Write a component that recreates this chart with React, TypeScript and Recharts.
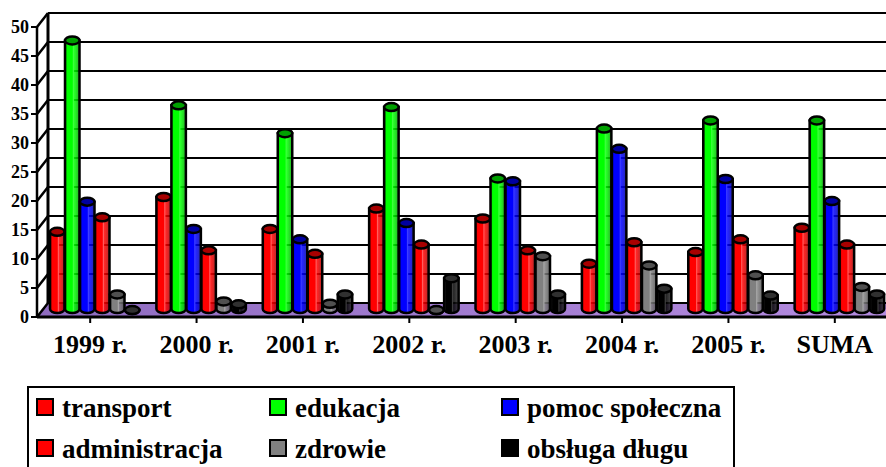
import React from "react";
import { BarChart, Bar, XAxis, YAxis, ReferenceLine, Legend } from "recharts";

const CATEGORIES = ["1999 r.", "2000 r.", "2001 r.", "2002 r.", "2003 r.", "2004 r.", "2005 r.", "SUMA"];
const TRANSPORT = [14, 20, 14.5, 18, 16.3, 8.5, 10.5, 14.7];
const EDUKACJA = [47, 35.8, 31, 35.5, 23.2, 31.8, 33.2, 33.2];
const POMOC = [19.2, 14.5, 12.7, 15.5, 22.7, 28.3, 23.1, 19.3];
const ADMINISTRACJA = [16.5, 10.8, 10.2, 11.8, 10.8, 12.2, 12.7, 11.8];
const ZDROWIE = [3.2, 2, 1.6, 0.5, 9.8, 8.2, 6.5, 4.5];
const DLUG = [0.5, 1.5, 3.2, 6, 3.2, 4.2, 3, 3.2];
const Y_TICKS = [0, 5, 10, 15, 20, 25, 30, 35, 40, 45, 50];

const SERIES = [
  { key: "transport", values: TRANSPORT, color: "#ff0000", dark: "#a80000", light: "#ff6060" },
  { key: "edukacja", values: EDUKACJA, color: "#00ff00", dark: "#00a000", light: "#40ff40" },
  { key: "pomoc społeczna", values: POMOC, color: "#0000ff", dark: "#0000a0", light: "#4040ff" },
  { key: "administracja", values: ADMINISTRACJA, color: "#ff0000", dark: "#a80000", light: "#ff6060" },
  { key: "zdrowie", values: ZDROWIE, color: "#808080", dark: "#505050", light: "#a8a8a8" },
  { key: "obsługa długu", values: DLUG, color: "#000000", dark: "#303030", light: "#404040" },
];

const chartData = CATEGORIES.map((name, i) => {
  const row: Record<string, string | number> = { name };
  SERIES.forEach((s) => {
    row[s.key] = s.values[i];
  });
  return row;
});

const FONT = "'Liberation Serif', 'Times New Roman', serif";
const DEPTH_X = 11;
const DEPTH_Y = 14;

// wall line plus the slanted bit from the front axis
function GridShape(props: any) {
  const { x1, x2, y1 } = props;
  const bx = x1 + DEPTH_X;
  const by = y1 - DEPTH_Y;
  return (
    <g>
      <line x1={x1 - 6} y1={y1} x2={x1} y2={y1} stroke="#000" strokeWidth={2} />
      <line x1={x1} y1={y1} x2={bx} y2={by} stroke="#000" strokeWidth={2.5} />
      <line x1={bx} y1={by} x2={x2 + 2} y2={by} stroke="#000" strokeWidth={2} />
    </g>
  );
}

function FloorShape(props: any) {
  const { x1, x2, y1 } = props;
  const bx = x1 + DEPTH_X;
  const by = y1 - DEPTH_Y;
  return (
    <g>
      <defs>
        <linearGradient id="floor" x1="0" y1="0" x2="1" y2="0">
          <stop offset="0" stopColor="#8f6cc0" />
          <stop offset="1" stopColor="#b48be0" />
        </linearGradient>
      </defs>
      <polygon points={`${x1},${y1} ${bx},${by} ${x2 + 2},${by} ${x2 + 2},${y1}`} fill="url(#floor)" />
      <line x1={x1 - 6} y1={y1} x2={x1} y2={y1} stroke="#000" strokeWidth={2} />
      <line x1={x1} y1={y1} x2={bx} y2={by} stroke="#000" strokeWidth={2.5} />
      <line x1={x1} y1={y1} x2={x1} y2={y1 - 290} stroke="#000" strokeWidth={2.5} />
      <line x1={bx} y1={by} x2={bx} y2={by - 290} stroke="#000" strokeWidth={3} />
      <line x1={bx} y1={by} x2={x2 + 2} y2={by} stroke="#000" strokeWidth={2} />
      <line x1={x1} y1={y1} x2={x2 + 2} y2={y1} stroke="#000" strokeWidth={3} />
    </g>
  );
}

function Cylinder(props: any) {
  const { x, y, width, height, dark, gid } = props;
  const cx = x + 5;
  const w = width - 0.5;
  const ry = 4;
  const top = y - 4;
  const bottom = Math.max(y + height - 8, top);
  const body = `M${cx},${top} L${cx},${bottom} A${w / 2},${ry} 0 0 0 ${cx + w},${bottom} L${cx + w},${top} Z`;
  return (
    <g>
      <path d={body} fill={`url(#${gid})`} stroke="#000" strokeWidth={2.5} />
      <ellipse cx={cx + w / 2} cy={top} rx={w / 2} ry={ry} fill={dark} stroke="#000" strokeWidth={2.5} />
    </g>
  );
}

function LegendBox({ payload }: any) {
  const items = payload ?? [];
  return (
    <div
      style={{
        border: "2px solid #000",
        boxSizing: "border-box",
        width: 708,
        height: 84,
        background: "#fff",
        display: "grid",
        gridTemplateColumns: "233px 232px 1fr",
        gridAutoRows: "41px",
        paddingLeft: 7,
        fontFamily: FONT,
        fontWeight: 700,
        fontSize: 27,
        color: "#000",
      }}
    >
      {items.map((it: any) => (
        <div key={it.value} style={{ display: "flex", alignItems: "center", whiteSpace: "nowrap" }}>
          <span
            style={{
              width: 14,
              height: 14,
              border: "2px solid #000",
              background: it.color,
              marginRight: 8,
              marginTop: -3,
              flex: "none",
            }}
          />
          {it.value}
        </div>
      ))}
    </div>
  );
}

export default function App() {
  return (
    <div style={{ position: "absolute", left: 0, top: 0, width: 886, height: 467, overflow: "hidden", background: "#fff" }}>
      <BarChart
        width={886}
        height={467}
        data={chartData}
        margin={{ top: 27, right: -2, bottom: 36, left: 0 }}
        barCategoryGap={8}
        barGap={0}
      >
        <defs>
          {SERIES.map((s, i) => (
            <linearGradient key={i} id={`cyl${i}`} x1="0" y1="0" x2="1" y2="0">
              <stop offset="0" stopColor={s.dark} />
              <stop offset="0.15" stopColor={s.color} />
              <stop offset="0.5" stopColor={s.color} />
              <stop offset="0.58" stopColor={s.light} />
              <stop offset="0.66" stopColor={s.color} stopOpacity={0.85} />
              <stop offset="1" stopColor={s.dark} stopOpacity={0.85} />
            </linearGradient>
          ))}
        </defs>
        <XAxis
          dataKey="name"
          height={30}
          tickLine={{ stroke: "#000", strokeWidth: 2 }}
          tickSize={6}
          axisLine={false}
          interval={0}
          tick={{ fill: "#000", fontFamily: FONT, fontWeight: 700, fontSize: 26, dy: 10 }}
        />
        <YAxis
          width={37}
          domain={[0, 50]}
          ticks={Y_TICKS}
          interval={0}
          tickLine={false}
          tickMargin={2}
          axisLine={false}
          tick={{ fill: "#000", fontFamily: FONT, fontWeight: 700, fontSize: 18 }}
        />
        {Y_TICKS.filter((t) => t > 0).map((t) => (
          <ReferenceLine key={t} y={t} shape={GridShape} zIndex={100} />
        ))}
        <ReferenceLine y={0} shape={FloorShape} zIndex={100} />
        {SERIES.map((s, i) => (
          <Bar
            key={s.key}
            dataKey={s.key}
            fill={s.color}
            isAnimationActive={false}
            shape={(p: any) => <Cylinder {...p} dark={s.dark} gid={`cyl${i}`} />}
          />
        ))}
        <Legend
          content={<LegendBox />}
          itemSorter={null}
          layout="horizontal"
          verticalAlign="bottom"
          wrapperStyle={{ left: 27, top: 386, width: 708, bottom: "auto" }}
        />
      </BarChart>
    </div>
  );
}
